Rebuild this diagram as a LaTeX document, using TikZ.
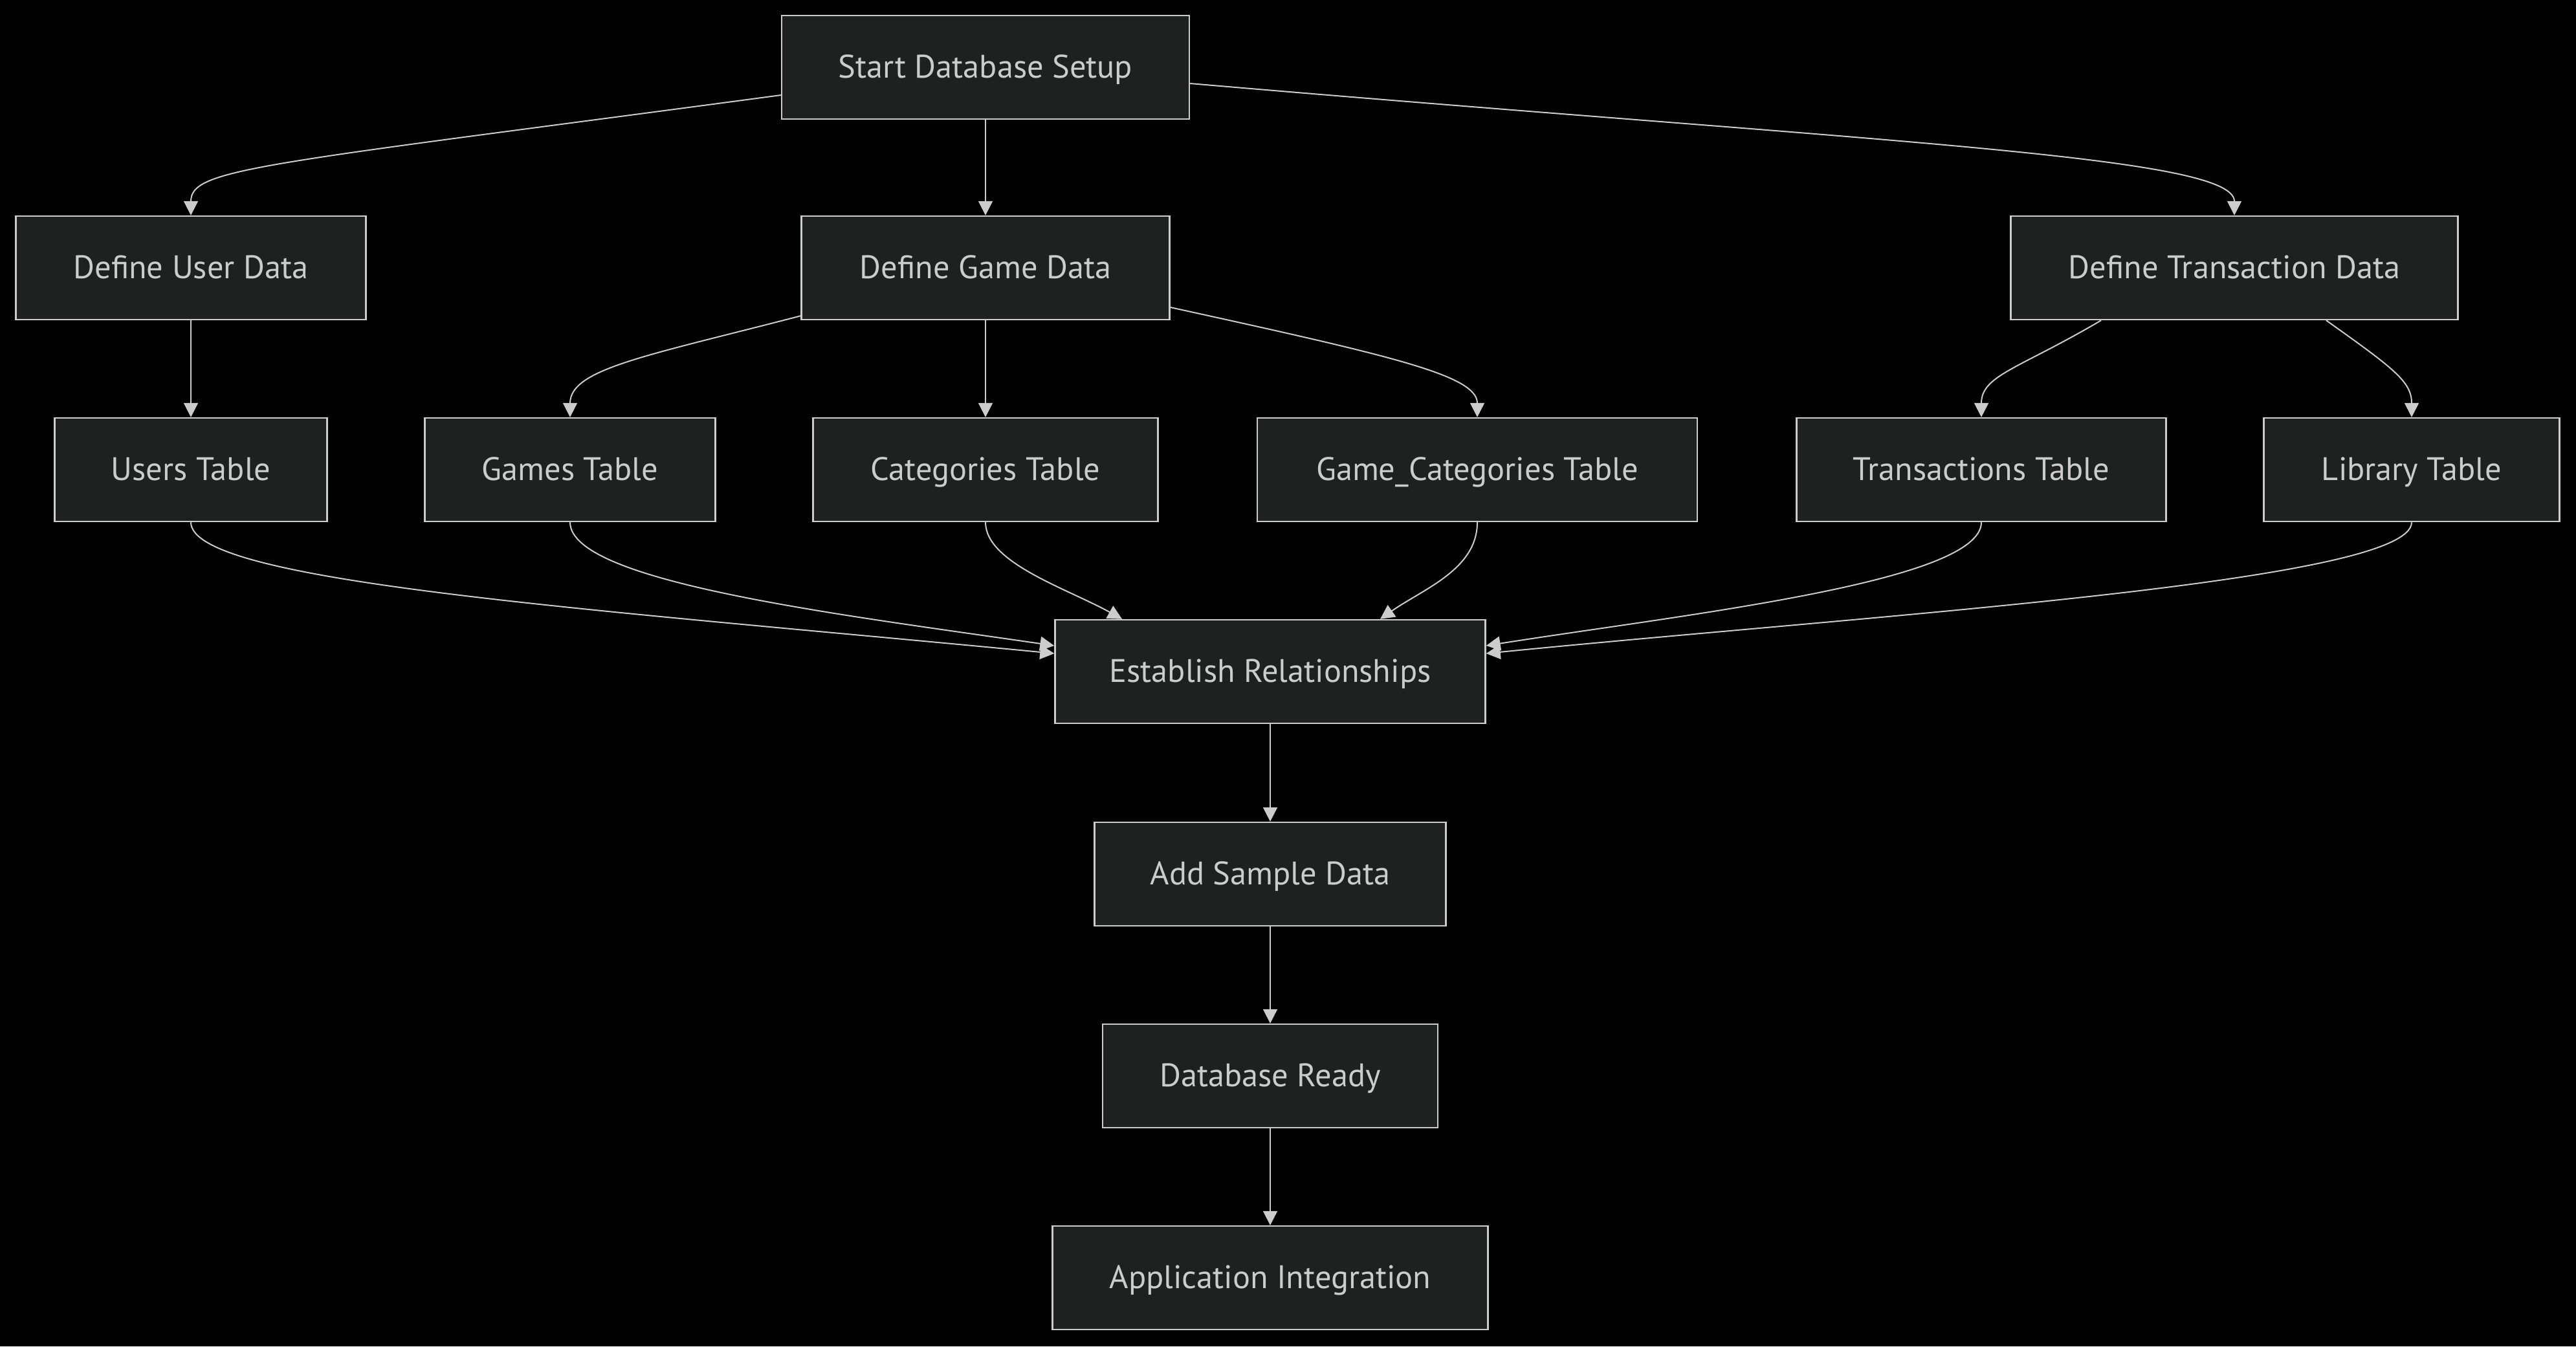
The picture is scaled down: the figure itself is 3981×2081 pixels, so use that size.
\documentclass[tikz,border=0pt]{standalone}
\usepackage{fontspec}
\setmainfont{PT Sans}
\usetikzlibrary{arrows.meta,calc}
\definecolor{bg}{HTML}{000000}
\definecolor{boxfill}{HTML}{1F2020}
\definecolor{fg}{HTML}{CCCCCC}
\tikzset{
  box/.style={draw=fg, fill=boxfill, line width=0.6pt, text=fg, minimum height=40pt,
    inner sep=0pt, text height=9pt, text depth=1pt, font=\fontsize{12.6}{14}\selectfont},
  conn/.style={draw=fg, line width=0.5pt, -{Triangle[length=5.5pt,width=5.5pt]}}
}
\begin{document}
\begin{tikzpicture}[x=0.25pt,y=-0.25pt]
\fill[bg] (0,0) rectangle (3981,2081);
\useasboundingbox (0,0) rectangle (3981,2081);
\node[box, minimum width=157.5pt] (start) at (1523,104) {Start Database Setup};
\node[box, minimum width=135.25pt] (duser) at (295,414) {Define User Data};
\node[box, minimum width=142.25pt] (dgame) at (1523,414) {Define Game Data};
\node[box, minimum width=172.75pt] (dtrans) at (3453,414) {Define Transaction Data};
\node[box, minimum width=105.25pt] (users) at (295,726) {Users Table};
\node[box, minimum width=112.25pt] (games) at (881,726) {Games Table};
\node[box, minimum width=133.25pt] (cats) at (1523,726) {Categories Table};
\node[box, minimum width=170pt] (gcats) at (2283,726) {Game\_Categories Table};
\node[box, minimum width=142.75pt] (trans) at (3062,726) {Transactions Table};
\node[box, minimum width=114.25pt] (lib) at (3727,726) {Library Table};
\node[box, minimum width=166.25pt] (rel) at (1963,1038) {Establish Relationships};
\node[box, minimum width=135.75pt] (sample) at (1963,1351) {Add Sample Data};
\node[box, minimum width=129.5pt] (ready) at (1963,1663) {Database Ready};
\node[box, minimum width=168.25pt] (app) at (1963,1975) {Application Integration};

\draw[conn] ($(start.west)+(0,43)$) .. controls (400,255) and (295,260) .. (duser.north);
\draw[conn] (start.south) -- (dgame.north);
\draw[conn] ($(start.east)+(0,25)$) .. controls (2900,220) and (3453,240) .. (dtrans.north);
\draw[conn] (duser.south) -- (users.north);
\draw[conn] ($(dgame.south west)+(0,-7)$) .. controls (1000,550) and (881,570) .. (games.north);
\draw[conn] (dgame.south) -- (cats.north);
\draw[conn] ($(dgame.east)+(0,61)$) .. controls (2150,550) and (2283,580) .. (gcats.north);
\draw[conn] ($(dtrans.south)+(-206,0)$) .. controls (3120,570) and (3062,580) .. (trans.north);
\draw[conn] ($(dtrans.south)+(142,0)$) .. controls (3700,570) and (3727,590) .. (lib.north);
\draw[conn] (users.south) .. controls (295,900) and (900,940) .. ($(rel.west)+(0,-28)$);
\draw[conn] (games.south) .. controls (881,900) and (1300,950) .. ($(rel.west)+(0,-40)$);
\draw[conn] (cats.south) .. controls (1523,870) and (1650,910) .. ($(rel.north)+(-229,0)$);
\draw[conn] (gcats.south) .. controls (2283,880) and (2200,910) .. ($(rel.north)+(170,0)$);
\draw[conn] (trans.south) .. controls (3062,900) and (2600,950) .. ($(rel.east)+(0,-40)$);
\draw[conn] (lib.south) .. controls (3727,900) and (2900,950) .. ($(rel.east)+(0,-28)$);
\draw[conn] (rel.south) -- (sample.north);
\draw[conn] (sample.south) -- (ready.north);
\draw[conn] (ready.south) -- (app.north);
\end{tikzpicture}
\end{document}
